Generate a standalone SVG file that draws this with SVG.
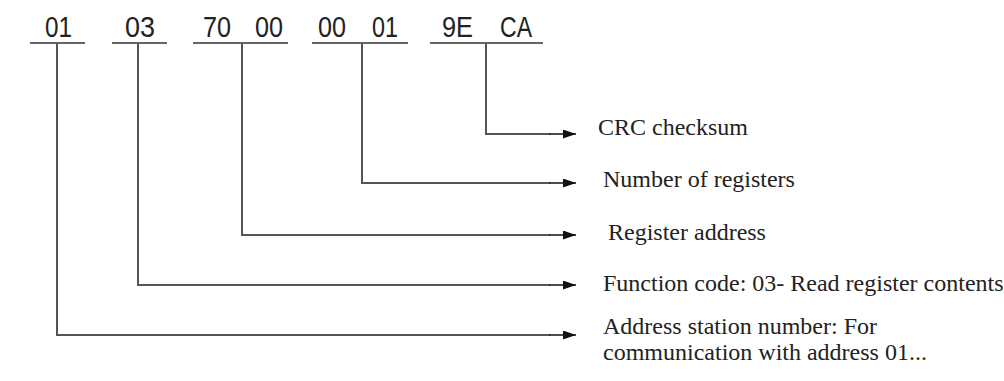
<svg xmlns="http://www.w3.org/2000/svg" width="1004" height="381" viewBox="0 0 1004 381">
<defs>
<marker id="ah" markerWidth="13" markerHeight="9" refX="13" refY="4.5" orient="auto" markerUnits="userSpaceOnUse">
<path d="M0,0 L13,4.5 L0,9 Z" fill="#111"/>
</marker>
<style>
.hex{font-family:"Liberation Sans",Arial,sans-serif;font-size:29px;fill:#222}
.lbl{font-family:"Liberation Serif","Times New Roman",serif;font-size:24px;fill:#222}
.ul{stroke:#666;stroke-width:2;fill:none}
.conn{stroke:#555;stroke-width:2;fill:none}
.arr{stroke:#111;stroke-width:1.5;fill:none}
</style>
</defs>
<rect width="1004" height="381" fill="#fff"/>
<g id="f01"><text class="hex" x="45" y="37" textLength="27" lengthAdjust="spacingAndGlyphs">01</text><line class="ul" x1="30" y1="43" x2="85" y2="43"/></g>
<g id="f03"><text class="hex" x="125" y="37" textLength="30" lengthAdjust="spacingAndGlyphs">03</text><line class="ul" x1="112" y1="43" x2="167" y2="43"/></g>
<g id="f7000"><text class="hex" x="203" y="37" textLength="28" lengthAdjust="spacingAndGlyphs">70</text><text class="hex" x="255" y="37" textLength="28" lengthAdjust="spacingAndGlyphs">00</text><line class="ul" x1="193" y1="43" x2="288" y2="43"/></g>
<g id="f0001"><text class="hex" x="318" y="37" textLength="28" lengthAdjust="spacingAndGlyphs">00</text><text class="hex" x="372" y="37" textLength="26" lengthAdjust="spacingAndGlyphs">01</text><line class="ul" x1="312" y1="43" x2="408" y2="43"/></g>
<g id="f9eca"><text class="hex" x="442" y="37" textLength="31" lengthAdjust="spacingAndGlyphs">9E</text><text class="hex" x="500" y="37" textLength="32" lengthAdjust="spacingAndGlyphs">CA</text><line class="ul" x1="430" y1="43" x2="543" y2="43"/></g>
<g id="connectors">
<path class="conn" d="M486,43 V134 H550"/><line class="arr" x1="549" y1="134" x2="576" y2="134" marker-end="url(#ah)"/>
<path class="conn" d="M362,43 V183 H550"/><line class="arr" x1="549" y1="183" x2="576" y2="183" marker-end="url(#ah)"/>
<path class="conn" d="M242,43 V235 H550"/><line class="arr" x1="549" y1="235" x2="576" y2="235" marker-end="url(#ah)"/>
<path class="conn" d="M138,43 V285 H550"/><line class="arr" x1="549" y1="285" x2="576" y2="285" marker-end="url(#ah)"/>
<path class="conn" d="M57,43 V335 H550"/><line class="arr" x1="549" y1="335" x2="576" y2="335" marker-end="url(#ah)"/>
</g>
<g id="l1"><text class="lbl" x="598" y="135">CRC checksum</text></g>
<g id="l2"><text class="lbl" x="603" y="187">Number of registers</text></g>
<g id="l3"><text class="lbl" x="608" y="240">Register address</text></g>
<g id="l4"><text class="lbl" x="603" y="291">Function code: 03- Read register contents</text></g>
<g id="l5"><text class="lbl" x="603" y="334">Address station number: For</text><text class="lbl" x="603" y="360">communication with address 01...</text></g>
</svg>
